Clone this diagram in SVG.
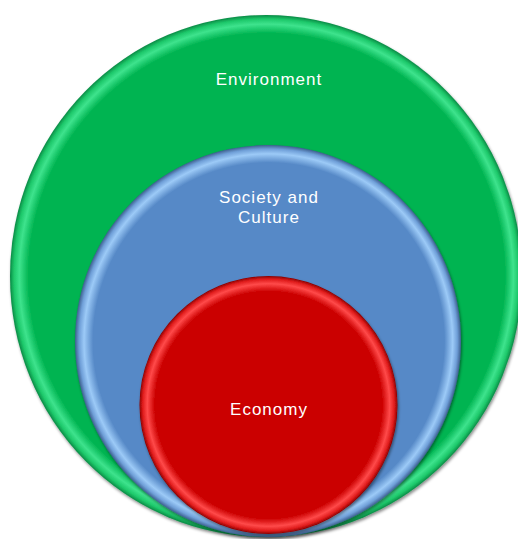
<svg xmlns="http://www.w3.org/2000/svg" width="518" height="539" viewBox="0 0 518 539">
<defs>
  <radialGradient id="gGreen" cx="0.5" cy="0.5" r="0.5" fx="0.52" fy="0.5">
    <stop offset="0" stop-color="#00b451"/>
    <stop offset="0.93" stop-color="#00b451"/>
    <stop offset="0.965" stop-color="#3ee38d"/>
    <stop offset="0.985" stop-color="#1dc86a"/>
    <stop offset="1" stop-color="#0a8a45"/>
  </radialGradient>
  <radialGradient id="gBlue" cx="0.5" cy="0.5" r="0.5" fx="0.52" fy="0.5">
    <stop offset="0" stop-color="#5689c7"/>
    <stop offset="0.91" stop-color="#5689c7"/>
    <stop offset="0.955" stop-color="#9ccaf7"/>
    <stop offset="0.98" stop-color="#6f9fd8"/>
    <stop offset="1" stop-color="#3d5f8e"/>
  </radialGradient>
  <radialGradient id="gRed" cx="0.5" cy="0.5" r="0.5" fx="0.5" fy="0.5">
    <stop offset="0" stop-color="#cb0000"/>
    <stop offset="0.88" stop-color="#cb0000"/>
    <stop offset="0.94" stop-color="#ff4a4a"/>
    <stop offset="0.975" stop-color="#e01c1c"/>
    <stop offset="1" stop-color="#8a0000"/>
  </radialGradient>
  <filter id="shadow" x="-10%" y="-10%" width="120%" height="120%">
    <feDropShadow dx="1" dy="2" stdDeviation="1.5" flood-color="#000" flood-opacity="0.45"/>
  </filter>
  <style>
    .lbl { font-family: "Liberation Sans", "DejaVu Sans", sans-serif; font-size: 17px; fill: #ffffff; text-anchor: middle; letter-spacing: 1px; }
  </style>
</defs>
<rect width="518" height="539" fill="#ffffff"/>
<g id="environment">
  <ellipse cx="266" cy="276" rx="256" ry="261" fill="url(#gGreen)" filter="url(#shadow)"/>
  <text class="lbl" x="269" y="85">Environment</text>
</g>
<g id="society">
  <ellipse cx="268" cy="341" rx="193" ry="196" fill="url(#gBlue)" filter="url(#shadow)"/>
  <text class="lbl" x="269" y="203">Society and</text>
  <text class="lbl" x="269" y="223">Culture</text>
</g>
<g id="economy">
  <circle cx="268.5" cy="405" r="129" fill="url(#gRed)" filter="url(#shadow)"/>
  <text class="lbl" x="269" y="415">Economy</text>
</g>
<g id="connectors"/>
</svg>
